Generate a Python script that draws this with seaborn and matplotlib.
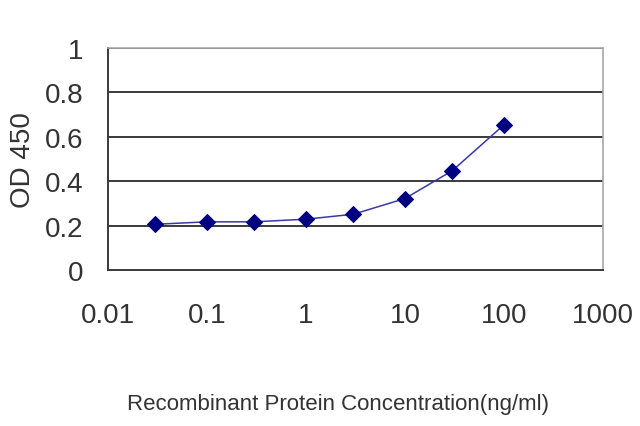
import matplotlib
matplotlib.use("Agg")
import matplotlib.pyplot as plt
import seaborn as sns
import pandas as pd
from matplotlib import font_manager

concentration = [0.03, 0.1, 0.3, 1, 3, 10, 30, 100]
od450 = [0.206, 0.217, 0.217, 0.229, 0.251, 0.322, 0.447, 0.654]
x_ticks = [0.01, 0.1, 1, 10, 100, 1000]
x_tick_labels = ["0.01", "0.1", "1", "10", "100", "1000"]
y_ticks = [0, 0.2, 0.4, 0.6, 0.8, 1.0]
y_tick_labels = ["0", "0.2", "0.4", "0.6", "0.8", "1"]

sns.set_style("white")
names = {f.name for f in font_manager.fontManager.ttflist}
fam = ["Liberation Sans Narrow", "Liberation Sans", "DejaVu Sans"]
fam = [f for f in fam if f in names] or ["DejaVu Sans"]
plt.rcParams["font.family"] = fam

df = pd.DataFrame({"conc": concentration, "od": od450})

fig = plt.figure(figsize=(6.4, 4.27), dpi=100)
ax = fig.add_axes([0.16875, 0.3653, 0.7734, 0.52])

for y in y_ticks[1:]:
    ax.axhline(y, color="#3a3a3a", lw=1.4, zorder=1)

sns.lineplot(data=df, x="conc", y="od", ax=ax, color="#3838a8", lw=1.1,
             marker="D", markersize=8.5, markerfacecolor="#000080",
             markeredgecolor="#000080", zorder=3)

ax.set_xscale("log")
ax.set_xlim(0.01, 1000)
ax.set_ylim(0, 1)
ax.set_xticks(x_ticks)
ax.set_xticklabels(x_tick_labels)
ax.set_yticks(y_ticks)
ax.set_yticklabels(y_tick_labels)
ax.minorticks_off()
ax.tick_params(axis="x", direction="in", length=4, width=1.2, color="#3a3a3a",
               labelsize=20, pad=23, labelcolor="#333333")
ax.tick_params(axis="y", length=0, labelsize=20, pad=18, labelcolor="#333333")

for s in ["left", "bottom"]:
    ax.spines[s].set_color("#3a3a3a")
    ax.spines[s].set_linewidth(1.4)
for s in ["top", "right"]:
    ax.spines[s].set_color("#a8a8a8")
    ax.spines[s].set_linewidth(1.2)

ax.set_xlabel("Recombinant Protein Concentration(ng/ml)", fontsize=16,
              color="#333333")
ax.xaxis.set_label_coords(0.465, -0.555)
ax.set_ylabel("OD 450", fontsize=20, color="#333333", labelpad=6)

fig.savefig("out.png", dpi=100)
